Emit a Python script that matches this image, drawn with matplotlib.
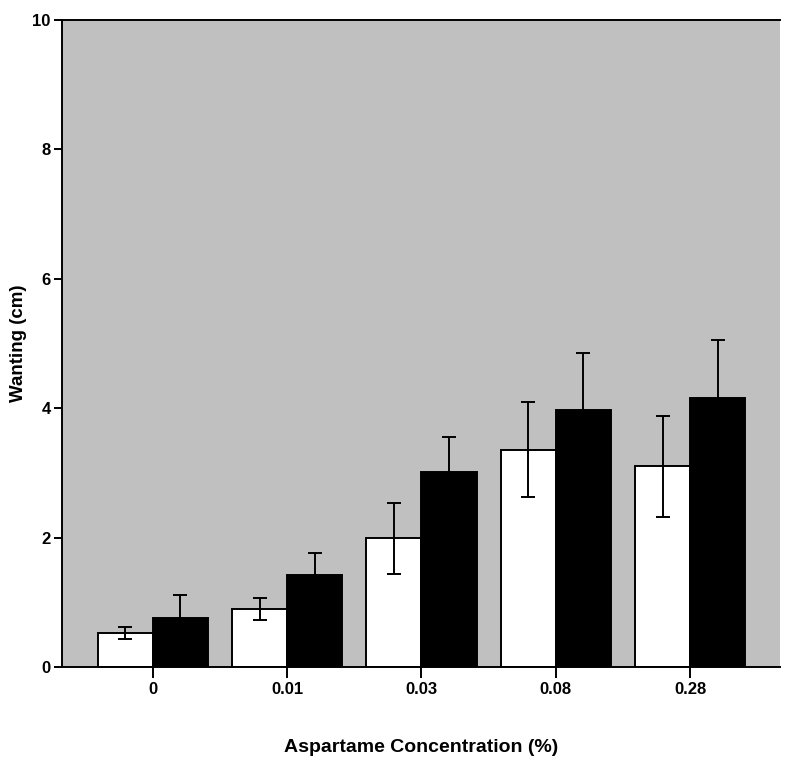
import numpy as np
import matplotlib.pyplot as plt

# data
conc       = ['0', '0.01', '0.03', '0.08', '0.28']
white_mean = [0.53, 0.90, 1.99, 3.36, 3.10]
white_err  = [0.095, 0.17, 0.55, 0.74, 0.78]
black_mean = [0.76, 1.42, 3.01, 3.97, 4.16]
black_err  = [0.35, 0.34, 0.54, 0.88, 0.90]

plt.rcParams['font.family'] = ['Liberation Sans', 'DejaVu Sans']
plt.rcParams['font.weight'] = 'bold'


def main():
	fig = plt.figure(figsize=(7.94, 7.62), dpi=100)
	ax = fig.add_axes([0.078, 0.1247, 0.904, 0.849])
	ax.set_facecolor('#c0c0c0')

	x = np.arange(len(conc))
	w = 0.41
	ekw = dict(ecolor='black', elinewidth=1.4, capsize=5, capthick=1.4)
	ax.bar(x - w/2, white_mean, w, color='white', edgecolor='black', linewidth=1.4,
		yerr=white_err, error_kw=ekw, zorder=2)
	ax.bar(x + w/2, black_mean, w, color='black', edgecolor='black', linewidth=1.4,
		yerr=black_err, error_kw=ekw, zorder=2)

	ax.set_xlim(-0.675, 4.665)
	ax.set_ylim(0, 10)
	ax.set_yticks([0, 2, 4, 6, 8, 10])
	ax.set_xticks(x)
	ax.set_xticklabels(conc)
	ax.tick_params(axis='y', length=6, width=1.4, labelsize=12, pad=2)
	ax.tick_params(axis='x', length=8, width=1.4, labelsize=12, pad=3)
	for s in ['left', 'bottom', 'top']:
		ax.spines[s].set_linewidth(1.4)
	ax.spines['right'].set_visible(False)

	ax.set_ylabel('Wanting (cm)', fontsize=13.5, fontweight='bold')
	ax.yaxis.set_label_coords(-0.049, 0.5)
	ax.set_xlabel('Aspartame Concentration (%)', fontsize=14, fontweight='bold', labelpad=30)

	fig.savefig('out.png', dpi=100)
	return 0

if __name__ == "__main__":
	main()
